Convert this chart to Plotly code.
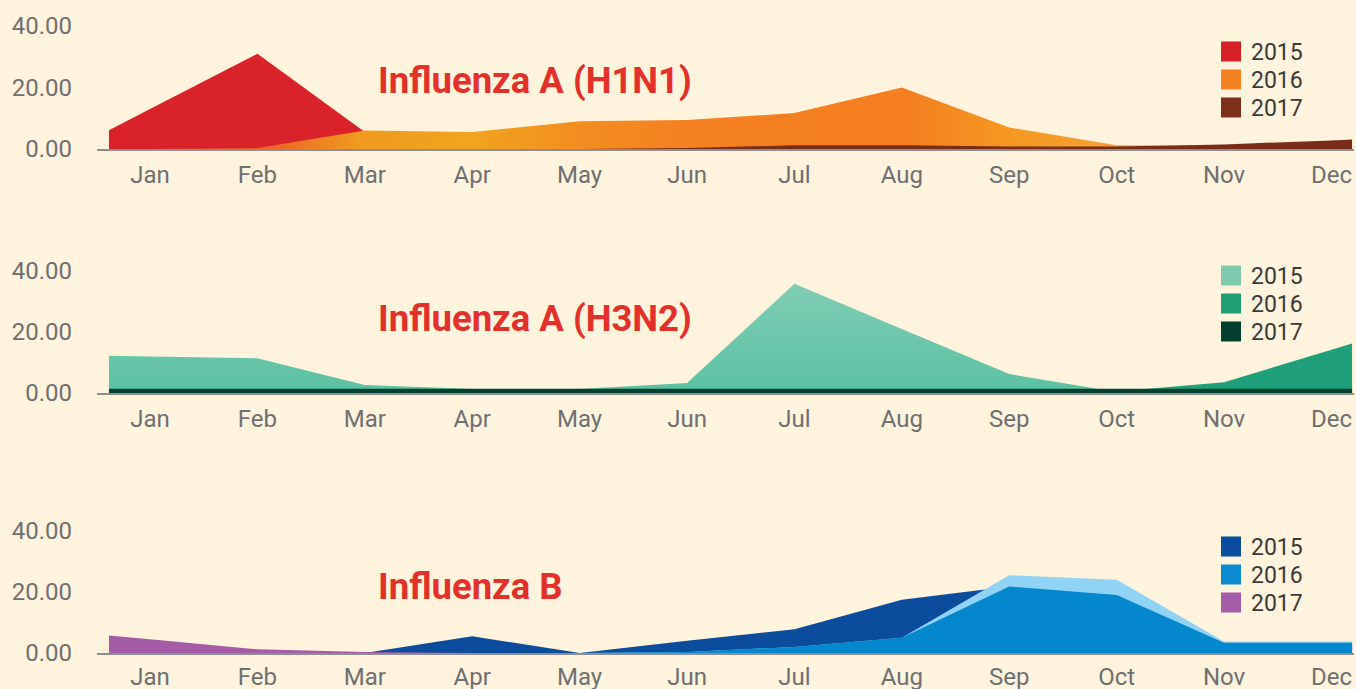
import plotly.graph_objects as go

# ---------------- data ----------------
MONTHS = ["Jan", "Feb", "Mar", "Apr", "May", "Jun",
          "Jul", "Aug", "Sep", "Oct", "Nov", "Dec"]
YEARS = ["2015", "2016", "2017"]
Y_TICKS = [0, 20, 40]
TITLES = ["Influenza A (H1N1)", "Influenza A (H3N2)", "Influenza B"]

H1N1_2015 = [13, 31, 5.5, 0, 0, 0, 0, 0, 0, 0, 0, 0]
H1N1_2016 = [0, 0.3, 6, 5.5, 9, 9.4, 11.7, 20, 7, 1.2, 1.0, 0.6]
H1N1_2017 = [0, 0, 0, 0, 0, 0.3, 1.2, 1.2, 0.8, 0.8, 1.5, 2.8]

H3N2_2015 = [12, 11.4, 2.6, 1.3, 1.3, 3.3, 35.8, 21, 6.2, 0.3, 0, 0]
H3N2_2016 = [1, 1, 1, 1, 1, 1, 1, 1, 1, 0.5, 3.5, 14.2]
H3N2_2017 = [1.4, 1.4, 1.4, 1.4, 1.4, 1.4, 1.4, 1.4, 1.4, 1.4, 1.4, 1.4]

B_2015 = [0, 0, 0, 5.5, 0, 4, 7.8, 17.5, 21.8, 19, 3.4, 3.4]
B_2016 = [0, 0, 0, 0, 0, 0.3, 2, 5, 25.5, 24, 3.8, 3.8]
B_2017 = [4.5, 1.2, 0.3, 0, 0, 0, 0, 0, 0, 0, 0, 0]

# ---------------- style / layout constants ----------------
W, H = 1356, 689
ML, MR = 97, 2
PW = W - ML - MR
BG = "#FEF3DD"
EDGE_L, EDGE_R = -0.382, 11.192      # area continues to the plot edges
X_RANGE = [-0.4935, 11.210]
FONT = "Roboto"
TICK_COLOR = "#6E6F71"
TITLE_COLOR = "#E3302A"

def py(p):            # pixel row -> paper y
    return 1 - p / H

def px(p):            # pixel column -> paper x
    return (p - ML) / PW

PANELS = [(149, 26), (393, 271), (653, 531)]   # (0-level px, 40-level px)
LEGEND_ROWS = [[51, 79, 107], [275, 303, 331], [546, 574, 602]]
TITLE_ROWS = [81, 318, 586]
X_STANDOFF = [3, 3, 1]

def ext_x():
    return [EDGE_L] + list(range(len(MONTHS))) + [EDGE_R]

def ext_y(v):
    # continue first / last segment out to the plot edges
    left = v[0] + (v[0] - v[1]) * (0 - EDGE_L)
    right = v[-1] + (v[-1] - v[-2]) * (EDGE_R - (len(v) - 1))
    return [max(left, 0)] + list(v) + [max(right, 0)]

fig = go.Figure()

def area(vals, panel, color=None, gradient=None):
    ax = "" if panel == 1 else str(panel)
    kw = dict(x=ext_x(), y=ext_y(vals), mode="none", fill="tozeroy",
              xaxis="x" + ax, yaxis="y" + ax, showlegend=False,
              hoverinfo="skip")
    if gradient is not None:
        kw["fillgradient"] = gradient
    else:
        kw["fillcolor"] = color
    fig.add_trace(go.Scatter(**kw))

legend_layouts = {}

def legend_entries(panel, colors):
    ax = "" if panel == 1 else str(panel)
    for k, (yr, c) in enumerate(zip(YEARS, colors)):
        n = (panel - 1) * 3 + k + 1
        lg = "legend" if n == 1 else "legend" + str(n)
        fig.add_trace(go.Scatter(
            x=[None], y=[None], mode="markers", name=yr, legend=lg,
            marker=dict(symbol="square", size=16, color=c,
                        line=dict(color=c, width=4)),
            xaxis="x" + ax, yaxis="y" + ax))
        legend_layouts[lg] = dict(
            x=px(1211), xanchor="left",
            y=py(LEGEND_ROWS[panel - 1][k] - 21), yanchor="top",
            bgcolor="rgba(0,0,0,0)", borderwidth=0, itemsizing="trace",
            font=dict(size=23, color="#3A3A3A", family=FONT),
            itemclick=False, itemdoubleclick=False)

# Panel 1 : H1N1
area(H1N1_2015, 1, color="#D9222A")
area(H1N1_2016, 1, gradient=dict(
    type="horizontal", start=EDGE_L, stop=EDGE_R,
    colorscale=[[0, "#E5452A"], [0.12, "#EA5C27"], [0.2, "#F09A1F"],
                [0.29, "#F1A41E"], [0.38, "#F38D20"], [0.47, "#F48021"],
                [0.64, "#F47E20"], [0.73, "#F59A22"], [0.82, "#F2A03A"],
                [1, "#EFA050"]]))
area(H1N1_2017, 1, color="#7A2C18")
legend_entries(1, ["#D52027", "#F38120", "#7E2F1A"])

# Panel 2 : H3N2
area(H3N2_2015, 2, gradient=dict(
    type="vertical", start=0, stop=36,
    colorscale=[[0, "#5BC1A3"], [1, "#80CDB4"]]))
area(H3N2_2016, 2, color="#1FA07A")
area(H3N2_2017, 2, color="#05412F")
legend_entries(2, ["#7FC9AE", "#1E9F78", "#023F2E"])

# Panel 3 : B
B_OVERLAP = [min(a, b) for a, b in zip(B_2015, B_2016)]
area(B_2015, 3, color="#0B4C9C")
area(B_2016, 3, color="#90D3F4")
area(B_OVERLAP, 3, color="#0587CE")
area(B_2017, 3, color="#A65BA8")
legend_entries(3, ["#0B4D9D", "#0A8AD0", "#A65DA9"])

layout = dict(
    width=W, height=H, autosize=False,
    paper_bgcolor=BG, plot_bgcolor=BG,
    margin=dict(l=ML, r=MR, t=0, b=0, pad=0),
    font=dict(family=FONT, color=TICK_COLOR),
    annotations=[],
)
layout.update(legend_layouts)

for i, (z, f) in enumerate(PANELS, start=1):
    sfx = "" if i == 1 else str(i)
    layout["xaxis" + sfx] = dict(
        domain=[0, 1], range=X_RANGE, anchor="y" + sfx, automargin=False,
        tickvals=list(range(len(MONTHS))), ticktext=MONTHS,
        showgrid=False, zeroline=False, showline=True,
        linecolor="#8E8E8E", linewidth=2, layer="below traces",
        ticks="", tickfont=dict(size=24, color=TICK_COLOR, family=FONT),
        ticklabelstandoff=X_STANDOFF[i - 1], ticklabeloverflow="allow",
        fixedrange=True)
    layout["yaxis" + sfx] = dict(
        domain=[py(z), py(f)], range=[0, 40], anchor="x" + sfx,
        automargin=False, tickvals=Y_TICKS, tickformat=".2f",
        showgrid=False, zeroline=False, showline=False, ticks="",
        tickfont=dict(size=24, color=TICK_COLOR, family=FONT),
        ticklabelstandoff=24, fixedrange=True)

for t, ty in zip(TITLES, TITLE_ROWS):
    layout["annotations"].append(dict(
        text=t, xref="paper", yref="paper", x=px(376), y=py(ty),
        xanchor="left", yanchor="middle", showarrow=False,
        font=dict(size=36.5, color=TITLE_COLOR, family=FONT, weight="bold")))

fig.update_layout(**layout)
fig.write_html(
    "out.html",
    config={"displayModeBar": False, "staticPlot": False},
    post_script=("document.body.style.margin='0';"
                 "document.body.style.padding='0';"
                 "document.body.style.overflow='hidden';"
                 "document.body.style.background='" + BG + "';"))
